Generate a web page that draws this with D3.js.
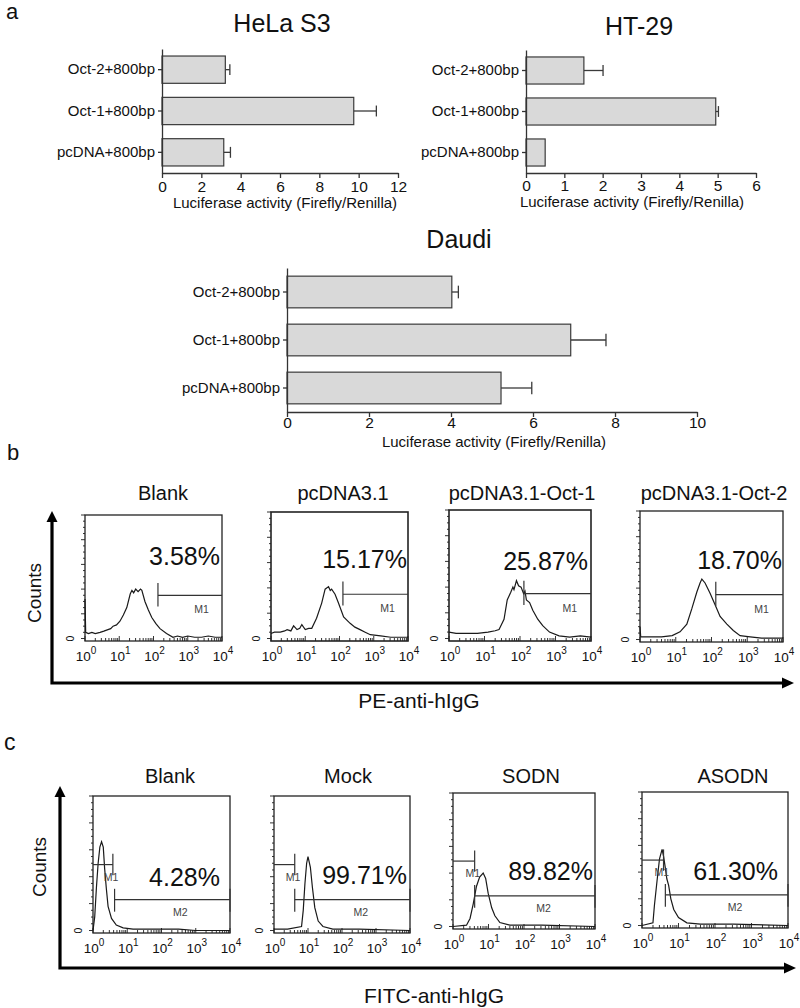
<!DOCTYPE html>
<html><head><meta charset="utf-8">
<script src="https://cdn.jsdelivr.net/npm/d3@7"></script>
<style>body{margin:0;background:#fff} svg{display:block;font-family:"Liberation Sans",Arial,sans-serif}</style>
</head><body><svg id="chart" width="800" height="1008"></svg>
<script>
// ---------- DATA ----------
const barCategories = ["Oct-2+800bp", "Oct-1+800bp", "pcDNA+800bp"];
const barTitles = ["HeLa S3", "HT-29", "Daudi"];
const barAxisTitle = "Luciferase activity (Firefly/Renilla)";
const helaValues = [3.22, 9.75, 3.14];
const helaErrors = [0.23, 1.15, 0.34];
const ht29Values = [1.51, 4.95, 0.50];
const ht29Errors = [0.50, 0.07, 0.0];
const daudiValues = [4.02, 6.92, 5.22];
const daudiErrors = [0.16, 0.86, 0.75];
const helaTicks = [0, 2, 4, 6, 8, 10, 12];
const ht29Ticks = [0, 1, 2, 3, 4, 5, 6];
const daudiTicks = [0, 2, 4, 6, 8, 10];

const flowDecades = [0, 1, 2, 3, 4];
const flowBTitles = ["Blank", "pcDNA3.1", "pcDNA3.1-Oct-1", "pcDNA3.1-Oct-2"];
const flowBPercents = ["3.58%", "15.17%", "25.87%", "18.70%"];
const flowBGateM1 = [2.13, 2.10, 2.11, 2.12];
const flowBAxisTitle = "PE-anti-hIgG";
const histBlankB = [[0,0.32],[0.02,0.05],[0.1,0.04],[0.2,0.05],[0.3,0.04],[0.44,0.05],[0.55,0.06],[0.65,0.07],[0.75,0.08],[0.82,0.1],[0.92,0.11],[1.02,0.14],[1.12,0.19],[1.22,0.25],[1.32,0.36],[1.37,0.39],[1.42,0.37],[1.48,0.40],[1.55,0.38],[1.62,0.40],[1.66,0.39],[1.75,0.30],[1.85,0.23],[1.95,0.17],[2.07,0.12],[2.19,0.08],[2.38,0.04],[2.57,0.01],[2.7,0.02],[2.85,0.01],[3.0,0.02],[3.2,0.01],[3.4,0.01],[3.6,0.02],[3.8,0.01],[4.0,0.01]];
const histPcdnaB = [[0,0.04],[0.1,0.05],[0.27,0.05],[0.4,0.06],[0.47,0.07],[0.58,0.06],[0.66,0.1],[0.76,0.07],[0.84,0.08],[0.9,0.11],[1.0,0.07],[1.1,0.08],[1.19,0.08],[1.33,0.16],[1.48,0.28],[1.58,0.39],[1.68,0.41],[1.73,0.38],[1.77,0.39],[1.87,0.35],[1.97,0.28],[2.12,0.17],[2.31,0.12],[2.45,0.09],[2.6,0.07],[2.75,0.05],[2.9,0.03],[3.2,0.02],[3.5,0.01],[4.0,0.01]];
const histOct1B = [[0,0.05],[0.2,0.04],[0.5,0.04],[0.8,0.04],[1.1,0.05],[1.3,0.06],[1.41,0.07],[1.55,0.15],[1.64,0.30],[1.74,0.36],[1.8,0.40],[1.83,0.38],[1.9,0.45],[1.96,0.41],[2.03,0.40],[2.1,0.35],[2.14,0.37],[2.18,0.30],[2.27,0.28],[2.36,0.22],[2.5,0.15],[2.64,0.10],[2.83,0.05],[3.1,0.02],[3.4,0.01],[3.7,0.02],[4.0,0.01]];
const histOct2B = [[0,0.1],[0.02,0.02],[0.3,0.02],[0.6,0.02],[0.9,0.03],[1.12,0.06],[1.31,0.12],[1.45,0.24],[1.59,0.37],[1.68,0.44],[1.73,0.47],[1.82,0.44],[1.96,0.36],[2.1,0.27],[2.24,0.18],[2.43,0.12],[2.61,0.07],[2.8,0.03],[3.08,0.02],[3.4,0.01],[3.7,0.01],[4.0,0.01]];
const flowBHists = [histBlankB, histPcdnaB, histOct1B, histOct2B];

const flowCTitles = ["Blank", "Mock", "SODN", "ASODN"];
const flowCPercents = ["4.28%", "99.71%", "89.82%", "61.30%"];
const flowCGateM1End = [0.58, 0.61, 0.61, 0.59];
const flowCGateM2Start = [0.63, 0.61, 0.61, 0.64];
const flowCAxisTitle = "FITC-anti-hIgG";
const histBlankC = [[0,0.0],[0.05,0.1],[0.1,0.32],[0.15,0.5],[0.2,0.62],[0.25,0.66],[0.3,0.62],[0.34,0.46],[0.39,0.31],[0.44,0.18],[0.54,0.09],[0.68,0.04],[0.88,0.02],[1.17,0.01],[1.6,0.01],[2.0,0.01],[2.5,0.01],[3.0,0.0],[4.0,0.0]];
const histMockC = [[0,0.01],[0.4,0.01],[0.81,0.03],[0.86,0.15],[0.91,0.35],[0.96,0.5],[1.0,0.55],[1.07,0.47],[1.13,0.32],[1.2,0.17],[1.3,0.07],[1.44,0.03],[1.73,0.01],[2.5,0.01],[4.0,0.0]];
const histSodnC = [[0,0.0],[0.38,0.01],[0.48,0.06],[0.57,0.17],[0.66,0.3],[0.75,0.37],[0.85,0.4],[0.92,0.36],[0.99,0.25],[1.09,0.14],[1.18,0.08],[1.32,0.03],[1.6,0.01],[2.5,0.01],[4.0,0.0]];
const histAsodnC = [[0,0.0],[0.3,0.02],[0.34,0.15],[0.41,0.33],[0.48,0.5],[0.55,0.57],[0.59,0.52],[0.64,0.43],[0.68,0.35],[0.73,0.3],[0.79,0.2],[0.87,0.12],[1.0,0.06],[1.23,0.02],[1.6,0.01],[2.5,0.01],[4.0,0.0]];
const flowCHists = [histBlankC, histMockC, histSodnC, histAsodnC];

// ---------- LAYOUT ----------
const FONT = '"Liberation Sans", Arial, sans-serif';
const svg = d3.select("#chart");
svg.append("rect").attr("width", 800).attr("height", 1008).attr("fill", "#fff");

function plainText(x, y, str, size, anchor) {
  return svg.append("text").attr("x", x).attr("y", y).attr("font-size", size)
    .attr("text-anchor", anchor || "start").attr("fill", "#111").text(str);
}

plainText(6, 19, "a", 22);
plainText(7, 460, "b", 22);
plainText(4, 750, "c", 23);

// ---------- PANEL a: bar charts ----------
const barLayouts = [
  {x0: 162, x1: 398, y0: 49, y1: 173, tx: 282, ty: 32, lx: 285, ly: 208, pad: 3},
  {x0: 526, x1: 756, y0: 50, y1: 173, tx: 639, ty: 35, lx: 632, ly: 207, pad: 2},
  {x0: 287, x1: 697, y0: 268, y1: 412, tx: 459, ty: 248, lx: 494, ly: 447, pad: 0}
];
const barSets = [
  {values: helaValues, errors: helaErrors, ticks: helaTicks},
  {values: ht29Values, errors: ht29Errors, ticks: ht29Ticks},
  {values: daudiValues, errors: daudiErrors, ticks: daudiTicks}
];
barSets.forEach((s, i) => {
  const L = barLayouts[i];
  const x = d3.scaleLinear().domain([0, d3.max(s.ticks)]).range([L.x0, L.x1]);
  const y = d3.scaleBand().domain(barCategories).range([L.y0, L.y1]).paddingInner(0.34).paddingOuter(0.17);
  const g = svg.append("g");
  const rows = barCategories.map((c, j) => ({c, v: s.values[j], e: s.errors[j]}));
  const eg = g.selectAll("g.err").data(rows.filter(d => d.e > 0)).join("g")
    .attr("stroke", "#3a3a3a").attr("stroke-width", 1.3);
  eg.append("line").attr("x1", d => x(d.v)).attr("x2", d => x(d.v + d.e))
    .attr("y1", d => y(d.c) + y.bandwidth() / 2).attr("y2", d => y(d.c) + y.bandwidth() / 2);
  eg.append("line").attr("x1", d => x(d.v + d.e)).attr("x2", d => x(d.v + d.e))
    .attr("y1", d => y(d.c) + y.bandwidth() * 0.3).attr("y2", d => y(d.c) + y.bandwidth() * 0.7);
  g.selectAll("rect.bar").data(rows).join("rect").attr("class", "bar")
    .attr("x", x(0)).attr("y", d => y(d.c)).attr("width", d => x(d.v) - x(0)).attr("height", y.bandwidth())
    .attr("fill", "#d9d9d9").attr("stroke", "#3a3a3a").attr("stroke-width", 1.2);
  const xa = g.append("g").attr("transform", `translate(0,${L.y1})`)
    .call(d3.axisBottom(x).tickValues(s.ticks).tickFormat(d3.format("d")).tickSize(5).tickPadding(L.pad).tickSizeOuter(0));
  const ya = g.append("g").attr("transform", `translate(${L.x0},0)`)
    .call(d3.axisLeft(y).tickSize(4).tickPadding(3).tickSizeOuter(0));
  [xa, ya].forEach(a => {
    a.attr("font-family", FONT);
    a.selectAll("path,line").attr("stroke", "#333").attr("stroke-width", 1.3);
    a.selectAll("text").attr("fill", "#111");
  });
  xa.selectAll("text").attr("font-size", 15.5);
  ya.selectAll("text").attr("font-size", 15);
  plainText(L.tx, L.ty, barTitles[i], 25, "middle");
  plainText(L.lx, L.ly, barAxisTitle, 15, "middle");
});

// ---------- flow histogram helper ----------
function drawHist(B, hist, opts) {
  const g = svg.append("g");
  const x = d3.scaleLinear().domain([0, 4]).range([B.x0, B.x1]);
  const y = d3.scaleLinear().domain([0, 1]).range([B.y1 - 2.5, B.y0]);
  const lt = d3.range(0, 1.0001, 0.05);
  g.selectAll("line.lt").data(lt).join("line")
    .attr("x1", (d, k) => B.x0 - (k % 4 === 0 ? 4 : 2)).attr("x2", B.x0)
    .attr("y1", d => y(d)).attr("y2", d => y(d)).attr("stroke", "#333").attr("stroke-width", 1);
  const bt = [];
  flowDecades.forEach(d => {
    bt.push({v: d, major: true});
    if (d < 4) for (let k = 2; k <= 9; k++) bt.push({v: d + Math.log10(k), major: false});
  });
  g.selectAll("line.bt").data(bt).join("line")
    .attr("x1", d => x(d.v)).attr("x2", d => x(d.v))
    .attr("y1", B.y1).attr("y2", d => B.y1 - (d.major ? 5 : 3)).attr("stroke", "#333").attr("stroke-width", 1);
  g.append("rect").attr("x", B.x0).attr("y", B.y0).attr("width", B.x1 - B.x0).attr("height", B.y1 - B.y0)
    .attr("fill", "none").attr("stroke", "#222").attr("stroke-width", B.bw || 1.3);
  g.append("path").datum(hist)
    .attr("d", d3.line().x(d => x(d[0])).y(d => y(d[1])))
    .attr("fill", "none").attr("stroke", "#1a1a1a").attr("stroke-width", 1.2);
  flowDecades.forEach(d => {
    const t = g.append("text").attr("x", x(d) + 1).attr("y", B.y1 + opts.labelDy)
      .attr("text-anchor", "middle").attr("font-size", 13.5).attr("fill", "#111");
    t.append("tspan").text("10");
    t.append("tspan").attr("font-size", 10).attr("dy", -7).text(String(d));
  });
  g.append("text").attr("transform", `translate(${B.x0 - 11},${y(0)}) rotate(-90)`)
    .attr("text-anchor", "middle").attr("font-size", 10.5).attr("fill", "#111").text("0");
  return {g, x, y};
}

// ---------- PANEL b ----------
const flowBLayout = [
  {x0: 85, x1: 222, y0: 515, y1: 641, tx: 163, pe: 220, pb: 565},
  {x0: 271, x1: 408, y0: 512, y1: 641, tx: 343, pe: 407, pb: 568, bw: 1.6},
  {x0: 449, x1: 591, y0: 510, y1: 641, tx: 522, pe: 588, pb: 570, bw: 1.6},
  {x0: 640, x1: 783, y0: 511, y1: 642, tx: 714, pe: 782, pb: 569}
];
flowBHists.forEach((h, i) => {
  const B = flowBLayout[i];
  const {g, x, y} = drawHist(B, h, {labelDy: 20});
  const gx = x(flowBGateM1[i]);
  g.append("line").attr("x1", gx).attr("x2", B.x1).attr("y1", y(0.35)).attr("y2", y(0.35))
    .attr("stroke", "#333").attr("stroke-width", 1.2);
  g.append("line").attr("x1", gx).attr("x2", gx).attr("y1", y(0.26)).attr("y2", y(0.45))
    .attr("stroke", "#333").attr("stroke-width", 1.2);
  g.append("text").attr("x", x(3.4)).attr("y", y(0.21)).attr("text-anchor", "middle")
    .attr("font-size", 10.5).attr("fill", "#444").text("M1");
  plainText(B.pe, B.pb, flowBPercents[i], 25, "end");
  plainText(B.tx, 500, flowBTitles[i], 20, "middle");
});

// ---------- PANEL c ----------
const flowCLayout = [
  {x0: 93, x1: 230, y0: 796, y1: 933, tx: 170, pe: 220, pb: 886},
  {x0: 274, x1: 410, y0: 796, y1: 933, tx: 348, pe: 407, pb: 884},
  {x0: 453, x1: 595, y0: 793, y1: 929, tx: 531, pe: 593, pb: 880},
  {x0: 642, x1: 788, y0: 792, y1: 928, tx: 733, pe: 778, pb: 880}
];
flowCHists.forEach((h, i) => {
  const B = flowCLayout[i];
  const {g, x, y} = drawHist(B, h, {labelDy: 20});
  const ln = (x1, y1, x2, y2) => g.append("line").attr("x1", x1).attr("y1", y1).attr("x2", x2).attr("y2", y2)
    .attr("stroke", "#333").attr("stroke-width", 1.2);
  const m1 = x(flowCGateM1End[i]), m2 = x(flowCGateM2Start[i]);
  ln(x(0), y(0.49), m1, y(0.49));
  ln(m1, y(0.57), m1, y(0.41));
  ln(m2, y(0.23), x(4), y(0.23));
  ln(m2, y(0.31), m2, y(0.14));
  ln(x(4), y(0.31), x(4), y(0.14));
  g.append("text").attr("x", x(flowCGateM1End[i] - 0.05)).attr("y", y(0.37)).attr("text-anchor", "middle")
    .attr("font-size", 10.5).attr("fill", "#444").text("M1");
  g.append("text").attr("x", x(2.55)).attr("y", y(0.11)).attr("text-anchor", "middle")
    .attr("font-size", 10.5).attr("fill", "#444").text("M2");
  plainText(B.pe, B.pb, flowCPercents[i], 25, "end");
  plainText(B.tx, 783, flowCTitles[i], 20, "middle");
});

// ---------- big axes with arrows ----------
function bigAxes(ax, ayTop, ayBot, axRight, countsX, countsY, title, titleX, titleY) {
  svg.append("path").attr("d", `M${ax},${ayTop + 9} V${ayBot} H${axRight - 11}`)
    .attr("fill", "none").attr("stroke", "#000").attr("stroke-width", 3.2);
  svg.append("path").attr("d", `M${ax},${ayTop} L${ax - 5.5},${ayTop + 11} L${ax + 5.5},${ayTop + 11} Z`).attr("fill", "#000");
  svg.append("path").attr("d", `M${axRight},${ayBot} L${axRight - 12},${ayBot - 5.5} L${axRight - 12},${ayBot + 5.5} Z`).attr("fill", "#000");
  svg.append("text").attr("transform", `translate(${countsX},${countsY}) rotate(-90)`)
    .attr("text-anchor", "middle").attr("font-size", 19).attr("fill", "#111").text("Counts");
  plainText(titleX, titleY, title, 21, "middle");
}
bigAxes(52, 511, 683, 794, 41, 593, flowBAxisTitle, 419, 708);
bigAxes(60, 786, 968, 796, 46, 867, flowCAxisTitle, 434, 1003);
</script></body></html>
